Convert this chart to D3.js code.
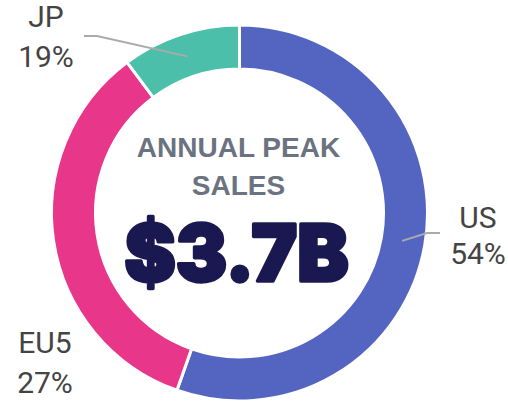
<!DOCTYPE html>
<html><head><meta charset="utf-8">
<script src="https://cdn.jsdelivr.net/npm/d3@7"></script>
<style>html,body{margin:0;padding:0;background:#fff;}svg{display:block;}</style>
</head><body>
<svg id="c" width="508" height="401"></svg>
<script>
// Data
const regions = ["US", "EU5", "JP"];
const arcShares = [55.4, 34.4, 10.2];   // angular share as drawn
const labelPcts = [54, 27, 19];          // percentages shown in labels
const colors = ["#5465c1", "#e8368a", "#4bbfaa"];
const centerTitle = ["ANNUAL PEAK", "SALES"];
const centerValue = "$3.7B";

const svg = d3.select("#c");
const cx = 239.5, cy = 213, rOuter = 188, rInner = 144;
const g = svg.append("g").attr("transform", `translate(${cx},${cy})`);

const pie = d3.pie().sort(null).value(d => d.v);
const data = regions.map((r, i) => ({ r, v: arcShares[i], p: labelPcts[i], c: colors[i] }));
const arcs = pie(data);
const arc = d3.arc().innerRadius(rInner).outerRadius(rOuter);
const mid = d3.arc().innerRadius(165).outerRadius(165);

// leader line layout (elbow + end), labels position
const layout = {
  US:  { elbow: [427, 233], end: [440, 233], lx: 478, ly: [228, 264], line: true },
  EU5: { lx: 45, ly: [353, 393], line: false },
  JP:  { elbow: [97, 36], end: [84, 36], lx: 46, ly: [27, 67], line: true }
};

g.selectAll("path.slice").data(arcs).join("path")
  .attr("class", "slice")
  .attr("d", arc)
  .attr("fill", d => d.data.c)
  .attr("stroke", "#fff")
  .attr("stroke-width", 3);

arcs.forEach(d => {
  const L = layout[d.data.r];
  if (L.line) {
    const c = mid.centroid(d);
    const pts = [[c[0] + cx, c[1] + cy], L.elbow, L.end];
    svg.append("path")
      .attr("d", d3.line()(pts))
      .attr("fill", "none")
      .attr("stroke", "#aaaaaa")
      .attr("stroke-width", 2);
  }
  const t = svg.append("text")
    .attr("text-anchor", "middle")
    .attr("font-family", "Roboto, sans-serif")
    .attr("font-size", 30)
    .attr("fill", "#444");
  t.append("tspan").attr("x", L.lx).attr("y", L.ly[0]).text(d.data.r);
  t.append("tspan").attr("x", L.lx).attr("y", L.ly[1]).text(d.data.p + "%");
});

// center text
svg.selectAll("text.title").data(centerTitle).join("text")
  .attr("class", "title")
  .attr("x", 238.5)
  .attr("y", (d, i) => 157 + i * 38)
  .attr("text-anchor", "middle")
  .attr("font-family", "'Liberation Sans', Arial, sans-serif")
  .attr("font-weight", "bold")
  .attr("font-size", 28)
  .attr("fill", "#6b7280")
  .text(d => d);

svg.append("text")
  .attr("x", 236.5)
  .attr("y", 281)
  .attr("text-anchor", "middle")
  .attr("font-family", "Inter, 'Liberation Sans', sans-serif")
  .attr("font-weight", 900)
  .attr("font-size", 79)
  .attr("fill", "#1a1850")
  .attr("stroke", "#1a1850")
  .attr("stroke-width", 3.5)
  .attr("stroke-linejoin", "round")
  .attr("textLength", 224)
  .attr("lengthAdjust", "spacingAndGlyphs")
  .text(centerValue);
</script>
</body></html>
